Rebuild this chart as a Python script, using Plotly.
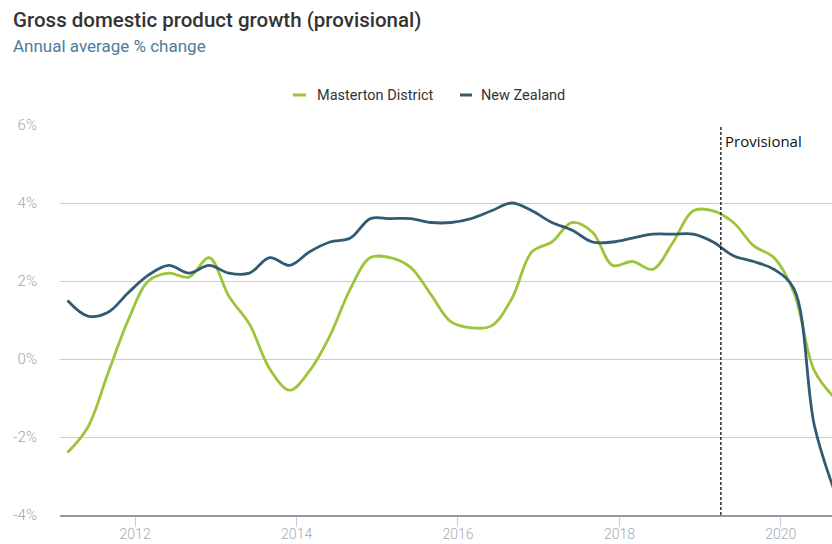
import plotly.graph_objects as go

# Quarterly periods (annual average % change, quarter ending month)
quarters = [
    "2011-03-01", "2011-06-01", "2011-09-01", "2011-12-01",
    "2012-03-01", "2012-06-01", "2012-09-01", "2012-12-01",
    "2013-03-01", "2013-06-01", "2013-09-01", "2013-12-01",
    "2014-03-01", "2014-06-01", "2014-09-01", "2014-12-01",
    "2015-03-01", "2015-06-01", "2015-09-01", "2015-12-01",
    "2016-03-01", "2016-06-01", "2016-09-01", "2016-12-01",
    "2017-03-01", "2017-06-01", "2017-09-01", "2017-12-01",
    "2018-03-01", "2018-06-01", "2018-09-01", "2018-12-01",
    "2019-03-01", "2019-06-01", "2019-09-01", "2019-12-01",
    "2020-03-01", "2020-06-01", "2020-09-01",
]

masterton = [
    -2.4, -1.75, -0.35, 1.0,
    2.0, 2.2, 2.1, 2.6,
    1.6, 0.9, -0.25, -0.8,
    -0.3, 0.6, 1.8, 2.6,
    2.6, 2.35, 1.65, 0.95,
    0.8, 0.85, 1.55, 2.75,
    3.0, 3.5, 3.25, 2.4,
    2.5, 2.3, 3.0, 3.8,
    3.8, 3.5, 2.9, 2.6,
    1.7, -0.3, -1.0,
]

new_zealand = [
    1.5, 1.1, 1.2, 1.7,
    2.15, 2.4, 2.2, 2.4,
    2.2, 2.2, 2.6, 2.4,
    2.75, 3.0, 3.1, 3.6,
    3.6, 3.6, 3.5, 3.5,
    3.6, 3.8, 4.0, 3.8,
    3.5, 3.3, 3.0, 3.0,
    3.1, 3.2, 3.2, 3.2,
    3.0, 2.65, 2.5, 2.3,
    1.8, -1.7, -3.4,
]

series_names = ["Masterton District", "New Zealand"]
y_ticks = [-4, -2, 0, 2, 4, 6]
y_tick_text = ["-4%", "-2%", "0%", "2%", "4%", "6%"]

provisional_from = "2019-04-05"

GREEN = "#9dc43b"
BLUE = "#325a73"
FONT = "Roboto"

W, H = 832, 544
M_L, M_R, M_T, M_B = 60, 0, 125, 29
PLOT_W = W - M_L - M_R
PLOT_H = H - M_T - M_B


def px_x(px):
    """Pixel column -> paper x coordinate."""
    return (px - M_L) / PLOT_W


def px_y(py):
    """Pixel row -> paper y coordinate."""
    return (H - M_B - py) / PLOT_H


fig = go.Figure()
for name, values, color in [(series_names[0], masterton, GREEN),
                            (series_names[1], new_zealand, BLUE)]:
    fig.add_trace(go.Scatter(
        x=quarters, y=values, name=name, mode="lines", showlegend=False,
        line=dict(color=color, width=2.8, shape="spline", smoothing=1.0),
    ))

# Start of provisional estimates
fig.add_shape(
    type="line", xref="x", yref="y",
    x0=provisional_from, x1=provisional_from, y0=-4, y1=6,
    line=dict(color="#111111", width=1.3, dash="3px,2px"),
)
fig.add_annotation(
    x=provisional_from, y=6, xref="x", yref="y",
    text="Provisional", showarrow=False,
    xanchor="left", yanchor="middle", xshift=2, yshift=-16,
    font=dict(family="Open Sans", size=15, color="#111111"),
)

# Legend: short line swatch + label for each series
legend_items = [
    (series_names[0], GREEN, 293, 306, 315),
    (series_names[1], BLUE, 460, 472, 479),
]
for label, color, sx0, sx1, tx in legend_items:
    fig.add_shape(
        type="line", xref="paper", yref="paper",
        x0=px_x(sx0), x1=px_x(sx1), y0=px_y(95), y1=px_y(95),
        line=dict(color=color, width=3),
    )
    fig.add_annotation(
        xref="paper", yref="paper", x=px_x(tx), y=px_y(95),
        xanchor="left", yanchor="middle", text=label, showarrow=False,
        font=dict(family=FONT, size=14.5, color="#333333"),
    )

# Title and subtitle
fig.add_annotation(
    xref="paper", yref="paper", x=px_x(11), y=px_y(20),
    xanchor="left", yanchor="middle",
    text="Gross domestic product growth (provisional)", showarrow=False,
    font=dict(family=FONT, size=20.5, color="#333333", weight=500),
)
fig.add_annotation(
    xref="paper", yref="paper", x=px_x(11), y=px_y(46),
    xanchor="left", yanchor="middle",
    text="Annual average % change", showarrow=False,
    font=dict(family=FONT, size=17, color="#4c7d9c"),
)

fig.update_layout(
    width=W, height=H,
    margin=dict(l=M_L, r=M_R, t=M_T, b=M_B, autoexpand=False),
    paper_bgcolor="white", plot_bgcolor="white",
    font=dict(family=FONT, color="#333333"),
    showlegend=False,
    xaxis=dict(
        type="date", automargin=False,
        range=["2011-01-26", "2020-08-20"],
        tick0="2012-01-01", dtick="M24", tickformat="%Y",
        showgrid=False, zeroline=False,
        showline=True, linecolor="#8e9ba6", linewidth=1.5,
        ticks="outside", ticklen=10, tickcolor="#c9d0d6", tickwidth=1,
        ticklabelstandoff=-5,
        tickfont=dict(family=FONT, size=14, color="#a3abb3", weight=300),
        fixedrange=True,
    ),
    yaxis=dict(
        range=[-4, 6], automargin=False,
        tickvals=y_ticks, ticktext=y_tick_text,
        showgrid=True, gridcolor="#cccccc", gridwidth=1,
        zeroline=False, showline=False,
        ticks="", ticklabelstandoff=22,
        tickfont=dict(family=FONT, size=15, color="#a6a6a6", weight=300),
        fixedrange=True,
    ),
)

fig.write_html("out.html")
